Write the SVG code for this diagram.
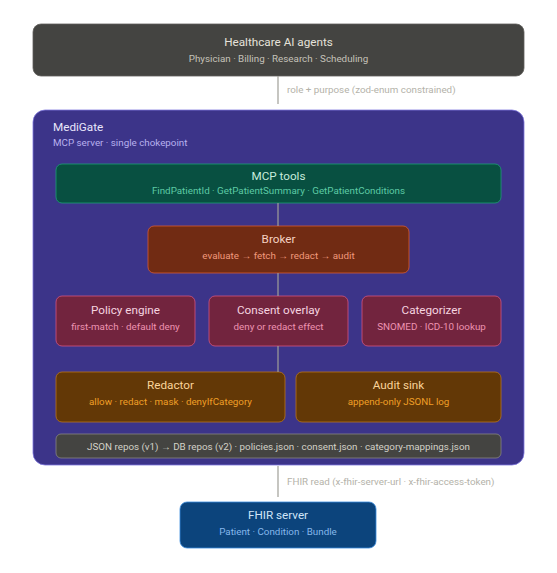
<svg xmlns="http://www.w3.org/2000/svg" width="557" height="573" viewBox="0 0 557 573">
<style>
text{font-family:Roboto,"Liberation Sans",sans-serif}
.t{font-size:11.7px;text-anchor:middle}
.s{font-size:9.8px;text-anchor:middle}
.lbl{font-size:9.8px;fill:#b4b2a9}
.ln{stroke:#a09f98;stroke-width:1.2;fill:none}
</style>
<rect width="557" height="573" fill="#ffffff"/>
<g id="agents">
<rect x="33" y="24" width="491" height="52" rx="8" fill="#444441" stroke="#5f5e5a" stroke-width="0.8"/>
<text class="t" x="278.5" y="46" fill="#e4e2da">Healthcare AI agents</text>
<text class="s" x="278.5" y="62" fill="#c4c2b9">Physician · Billing · Research · Scheduling</text>
</g>
<g id="medigate">
<rect x="33" y="110" width="491" height="355" rx="12" fill="#3c3489" stroke="#7f77dd" stroke-width="0.8"/>
<text x="53" y="131" font-size="11.7" fill="#e8e6fb">MediGate</text>
<text x="53" y="146" font-size="9.8" fill="#b7b0ee">MCP server · single chokepoint</text>
</g>
<g id="mcp-tools">
<rect x="56" y="164" width="445" height="39" rx="6" fill="#085041" stroke="#1d9e75" stroke-width="0.8"/>
<text class="t" x="278.5" y="180" fill="#c6ecdc">MCP tools</text>
<text class="s" x="278.5" y="194" fill="#5dcaa5">FindPatientId · GetPatientSummary · GetPatientConditions</text>
</g>
<g id="broker">
<rect x="148" y="226" width="261" height="47" rx="6" fill="#712b13" stroke="#d85a30" stroke-width="0.8"/>
<text class="t" x="278.5" y="243" fill="#f5d2c2">Broker</text>
<text class="s" x="278.5" y="259" fill="#f0997b">evaluate → fetch → redact → audit</text>
</g>
<g id="policy-engine">
<rect x="56" y="296" width="139" height="50" rx="6" fill="#72243e" stroke="#d4537e" stroke-width="0.8"/>
<text class="t" x="125.5" y="314" fill="#f6d5e0">Policy engine</text>
<text class="s" x="125.5" y="330" fill="#ed93b1">first-match · default deny</text>
</g>
<g id="consent-overlay">
<rect x="209" y="296" width="139" height="50" rx="6" fill="#72243e" stroke="#d4537e" stroke-width="0.8"/>
<text class="t" x="278.5" y="314" fill="#f6d5e0">Consent overlay</text>
<text class="s" x="278.5" y="330" fill="#ed93b1">deny or redact effect</text>
</g>
<g id="categorizer">
<rect x="362" y="296" width="139" height="50" rx="6" fill="#72243e" stroke="#d4537e" stroke-width="0.8"/>
<text class="t" x="431.5" y="314" fill="#f6d5e0">Categorizer</text>
<text class="s" x="431.5" y="330" fill="#ed93b1">SNOMED · ICD-10 lookup</text>
</g>
<g id="redactor">
<rect x="56" y="372" width="229" height="50" rx="6" fill="#633806" stroke="#ba7517" stroke-width="0.8"/>
<text class="t" x="170.5" y="389" fill="#fad49a">Redactor</text>
<text class="s" x="170.5" y="405" fill="#ef9f27">allow · redact · mask · denyIfCategory</text>
</g>
<g id="audit-sink">
<rect x="296" y="372" width="205" height="50" rx="6" fill="#633806" stroke="#ba7517" stroke-width="0.8"/>
<text class="t" x="398.5" y="389" fill="#fad49a">Audit sink</text>
<text class="s" x="398.5" y="405" fill="#ef9f27">append-only JSONL log</text>
</g>
<g id="repos">
<rect x="56" y="434" width="445" height="24" rx="5" fill="#444441" stroke="#888780" stroke-width="0.8"/>
<text class="s" x="278.5" y="449.5" fill="#d3d1c7">JSON repos (v1) → DB repos (v2) · policies.json · consent.json · category-mappings.json</text>
</g>
<g id="fhir-server">
<rect x="180" y="502" width="196" height="46" rx="7" fill="#0c447c" stroke="#378add" stroke-width="0.8"/>
<text class="t" x="278" y="519" fill="#d0e4f8">FHIR server</text>
<text class="s" x="278" y="535" fill="#85b7eb">Patient · Condition · Bundle</text>
</g>
<g id="connectors">
<line class="ln" x1="278" y1="76" x2="278" y2="104"/>
<text class="lbl" x="287" y="93">role + purpose (zod-enum constrained)</text>
<line class="ln" x1="278" y1="203" x2="278" y2="226"/>
<line class="ln" x1="278" y1="273" x2="278" y2="296"/>
<line class="ln" x1="278" y1="346" x2="278" y2="372"/>
<line class="ln" x1="278" y1="466" x2="278" y2="497"/>
<text class="lbl" x="287" y="485">FHIR read (x-fhir-server-url · x-fhir-access-token)</text>
</g>
</svg>
